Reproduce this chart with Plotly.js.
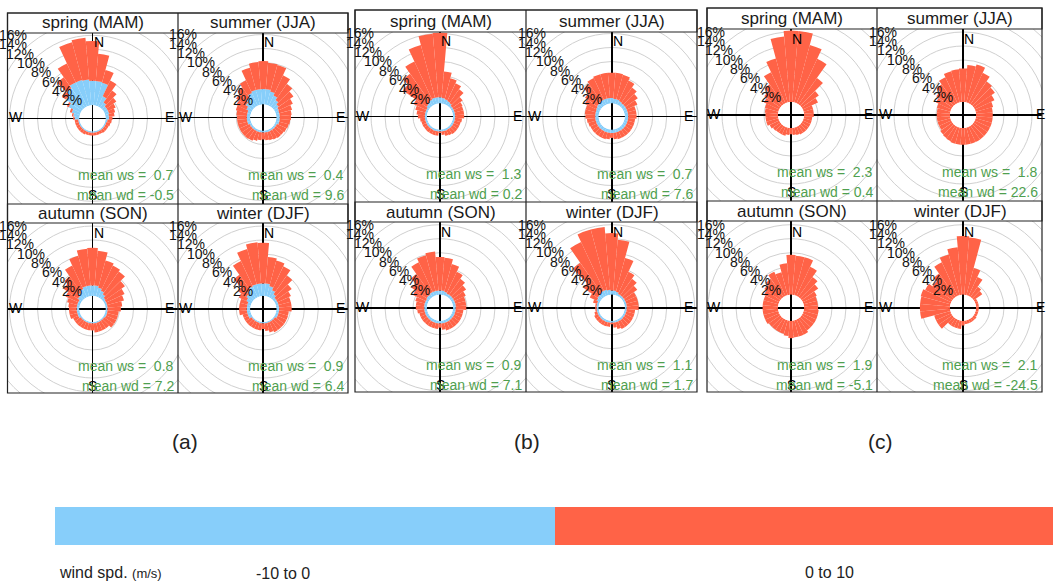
<!DOCTYPE html>
<html><head><meta charset="utf-8">
<script src="https://cdn.plot.ly/plotly-3.0.1.min.js"></script>
<style>html,body{margin:0;padding:0;background:#fff}#chart{width:1053px;height:581px}</style>
</head><body><div id="chart"></div>
<script>
// ---------------- data ----------------
const directions = [0,10,20,30,40,50,60,70,80,90,100,110,120,130,140,150,160,170,180,190,200,210,220,230,240,250,260,270,280,290,300,310,320,330,340,350];
const seasons = ['spring (MAM)','summer (JJA)','autumn (SON)','winter (DJF)'];
const speedBins = ['-10 to 0','0 to 10'];
const panelLabels = ['(a)','(b)','(c)'];

const meanWS_a = [0.7,0.4,0.8,0.9];
const meanWD_a = [-0.5,9.6,7.2,6.4];
const meanWS_b = [1.3,0.7,0.9,1.1];
const meanWD_b = [0.2,7.6,7.1,1.7];
const meanWS_c = [2.3,1.8,1.9,2.1];
const meanWD_c = [0.4,22.6,-5.1,-24.5];

// frequency (%) of wind speed bin "-10 to 0"
const blue_a_spring = [3.5,3.5,3.4,1.6,0.9,0.6,0.6,0.6,0.5,0.5,0.3,0.2,0.2,0.2,0.2,0.2,0.2,0.2,0.2,0.2,0.2,0.2,0.2,0.2,0.2,0.2,0.2,0.7,0.9,1.2,1.9,2.8,3.4,3.8,3.8,3.7];
const blue_a_summer = [2.2,2.2,2.0,1.6,1.2,0.8,0.6,0.5,0.5,0.5,0.5,0.5,0.3,0.3,0.3,0.3,0.3,0.3,0.3,0.3,0.3,0.3,0.3,0.3,0.3,0.5,0.5,0.5,0.5,0.5,0.8,1.2,1.6,2.0,2.2,2.2];
const blue_a_autumn = [1.5,1.5,1.3,1.0,0.7,0.4,0.3,0.3,0.3,0.3,0.3,0.3,0.3,0.2,0.2,0.2,0.2,0.2,0.2,0.2,0.2,0.2,0.2,0.2,0.4,0.4,0.4,0.4,0.4,0.4,0.4,0.7,1.0,1.3,1.5,1.5];
const blue_a_winter = [1.8,1.8,1.5,1.1,0.7,0.4,0.4,0.4,0.4,0.4,0.4,0.4,0.4,0.2,0.2,0.2,0.2,0.2,0.2,0.2,0.2,0.2,0.2,0.2,0.5,0.5,0.5,0.5,0.5,0.5,0.8,1.1,1.4,1.7,1.8,1.8];
const blue_b_spring = [0.9,0.8,0.7,0.6,0.5,0.3,0.3,0.3,0.3,0.3,0.3,0.3,0.3,0.3,0.3,0.3,0.3,0.3,0.3,0.3,0.3,0.3,0.3,0.3,0.3,0.3,0.3,0.3,0.3,0.3,0.3,0.5,0.6,0.8,0.9,0.9];
const blue_b_summer = [0.8,0.7,0.7,0.6,0.5,0.5,0.5,0.5,0.5,0.5,0.5,0.5,0.5,0.5,0.5,0.5,0.5,0.5,0.5,0.5,0.5,0.5,0.5,0.5,0.5,0.5,0.5,0.5,0.5,0.5,0.6,0.7,0.8,0.8,0.8,0.8];
const blue_b_autumn = [0.6,0.6,0.5,0.4,0.4,0.4,0.4,0.4,0.4,0.4,0.4,0.4,0.4,0.4,0.4,0.4,0.4,0.4,0.4,0.4,0.4,0.4,0.4,0.4,0.4,0.4,0.4,0.4,0.4,0.4,0.4,0.5,0.5,0.6,0.6,0.6];
const blue_b_winter = [0.6,0.6,0.5,0.3,0.3,0.3,0.3,0.3,0.3,0.3,0.3,0.3,0.3,0.3,0.3,0.3,0.3,0.3,0.3,0.3,0.3,0.3,0.3,0.3,0.3,0.3,0.3,0.3,0.3,0.3,0.5,0.6,0.7,0.8,0.8,0.7];

// frequency (%) of wind speed bin "0 to 10"
const red_a_spring = [5.7,3.9,1.9,2.5,2.1,1.7,1.2,0.9,0.8,0.5,0.6,0.6,0.5,0.5,0.5,0.4,0.4,0.4,0.4,0.4,0.4,0.5,0.5,0.5,0.5,0.5,0.5,0.2,0.2,0.3,0.3,0.7,1.9,3.0,5.6,6.0];
const red_a_summer = [4.0,3.8,3.9,3.2,2.8,2.6,2.2,1.9,1.7,1.6,1.5,1.4,1.5,1.4,1.4,1.3,1.2,1.1,1.0,1.1,1.3,1.5,1.6,1.6,1.6,1.4,1.4,1.4,1.5,1.7,1.6,1.7,1.8,2.0,3.3,3.9];
const red_a_autumn = [5.4,5.0,4.0,4.0,4.0,3.4,2.9,2.5,2.1,1.9,1.6,1.6,1.6,1.7,1.3,1.3,1.3,1.3,1.0,1.0,1.0,1.0,1.0,1.0,0.8,1.1,1.1,1.1,1.2,1.5,2.0,2.5,2.8,3.7,4.5,5.3];
const red_a_winter = [5.8,3.8,3.8,3.8,3.3,2.7,2.1,1.8,1.8,1.8,1.4,1.4,1.4,1.6,1.6,1.6,1.4,1.1,0.8,1.0,1.0,1.0,1.0,1.0,0.7,0.7,1.1,1.1,1.1,1.1,1.2,1.5,2.7,4.0,5.2,5.9];
const red_b_spring = [9.2,3.8,3.1,2.8,2.4,1.8,1.4,1.3,1.3,1.3,1.0,0.9,0.9,0.9,0.9,0.8,0.7,0.5,0.2,0.6,0.6,0.6,0.6,0.6,0.6,0.6,0.7,1.0,1.2,1.5,2.0,4.1,5.0,6.0,7.8,9.1];
const red_b_summer = [3.6,3.7,3.6,3.2,2.7,2.2,1.7,1.2,1.2,1.2,1.0,1.0,1.0,1.0,1.0,1.0,1.0,0.9,0.7,0.9,1.0,1.0,1.0,1.0,1.0,1.1,1.2,1.4,1.5,1.5,1.8,2.1,3.0,3.4,3.6,3.6];
const red_b_autumn = [4.8,4.7,4.1,3.4,2.8,2.3,1.8,1.5,1.5,1.5,1.1,1.1,1.1,1.1,1.1,1.1,1.1,0.9,0.6,0.8,0.8,0.8,0.8,0.8,0.8,0.8,1.0,1.2,1.2,1.4,2.0,2.6,3.5,4.7,5.3,5.6];
const red_b_winter = [8.2,7.3,5.0,3.5,2.9,2.3,1.7,1.7,1.7,1.7,1.2,1.2,1.2,1.2,1.2,1.2,1.0,0.7,0.2,0.6,0.6,0.6,0.6,0.6,0.6,0.4,0.2,0.2,0.2,0.6,1.1,2.5,5.3,7.7,8.9,9.0];
const red_c_spring = [10.2,10.2,8.5,7.0,4.6,3.0,2.4,1.4,1.4,1.4,1.2,1.2,1.2,1.2,1.2,1.2,1.1,1.0,0.9,1.0,1.2,1.2,1.2,1.3,1.5,1.8,1.8,1.8,1.9,2.0,2.4,2.8,3.5,4.9,6.5,9.4];
const red_c_summer = [4.8,5.3,5.6,4.8,4.0,3.7,3.1,2.6,2.4,2.4,2.4,2.4,2.4,2.4,2.4,2.4,2.4,2.4,2.4,2.4,2.4,2.3,2.2,2.1,1.9,1.9,1.9,1.9,1.9,2.0,2.4,2.8,3.5,4.1,4.6,4.7];
const red_c_autumn = [5.7,5.6,5.6,4.6,3.5,2.9,2.2,2.0,2.0,2.0,2.1,2.1,2.1,2.1,2.1,2.4,2.4,2.4,2.5,2.2,2.0,2.0,2.0,2.0,2.2,2.2,2.2,2.2,2.2,2.2,2.4,2.8,3.2,3.8,3.4,4.5];
const red_c_winter = [8.4,8.2,4.0,3.0,1.8,1.5,0.4,0.4,0.4,0.4,0.4,0.4,0.4,0.5,0.5,0.5,0.5,0.5,0.7,1.2,1.2,1.2,1.2,2.4,2.4,2.4,4.3,4.3,4.3,4.4,4.1,3.5,4.1,5.3,6.0,6.8];

const gridSteps = [2,4,6,8,10,12,14,16];

// ---------------- styling / layout geometry ----------------
const W = 1053, H = 581;
const FONT = 'Liberation Sans, Arial, Helvetica, sans-serif';
const BLUE = '#87CEFA', RED = '#FF6347', GREEN = '#4f9f4f';
const RPX = 85, HOLE_PX = 13, PX_PER_PCT = 7;
const RMAX = (RPX - HOLE_PX) / PX_PER_PCT;

const panels = [
  {label: panelLabels[0], labelX: 185, x0: 7.5, xm: 178, x1: 348, y0: 13, ys1: 33, ys2: 204, ys3: 223, y1: 393,
   centers: [[92.5,118.3],[263.3,117.5],[92.5,309],[263.3,309]],
   blue: [blue_a_spring, blue_a_summer, blue_a_autumn, blue_a_winter],
   red: [red_a_spring, red_a_summer, red_a_autumn, red_a_winter], ws: meanWS_a, wd: meanWD_a},
  {label: panelLabels[1], labelX: 527, x0: 355, xm: 526, x1: 697, y0: 10, ys1: 32, ys2: 202, ys3: 222, y1: 392,
   centers: [[440,116.5],[611.7,116.5],[440,307.7],[611.7,307.7]],
   blue: [blue_b_spring, blue_b_summer, blue_b_autumn, blue_b_winter],
   red: [red_b_spring, red_b_summer, red_b_autumn, red_b_winter], ws: meanWS_b, wd: meanWD_b},
  {label: panelLabels[2], labelX: 880, x0: 707, xm: 877, x1: 1042, y0: 8, ys1: 29, ys2: 201, ys3: 221, y1: 392,
   centers: [[791,115],[963,115],[791,307.7],[963,307.7]],
   blue: null,
   red: [red_c_spring, red_c_summer, red_c_autumn, red_c_winter], ws: meanWS_c, wd: meanWD_c}
];

const fx = px => px / W;
const fy = py => 1 - py / H;

const traces = [];
const layout = {
  width: W, height: H, margin: {l: 0, r: 0, t: 0, b: 0},
  paper_bgcolor: '#ffffff', plot_bgcolor: 'rgba(0,0,0,0)',
  showlegend: false, font: {family: FONT},
  shapes: [], annotations: []
};
const borderShapes = [];
function paperText(x, y, text, size, color, xanchor) {
  layout.annotations.push({xref: 'paper', yref: 'paper', x: fx(x), y: fy(y), text: text, showarrow: false,
    xanchor: xanchor || 'center', yanchor: 'middle', font: {size: size, color: color, family: FONT}});
}

let n = 0;
panels.forEach(p => {
  const areas = [[p.x0,p.xm,p.ys1,p.ys2],[p.xm,p.x1,p.ys1,p.ys2],[p.x0,p.xm,p.ys3,p.y1],[p.xm,p.x1,p.ys3,p.y1]];
  areas.forEach((a, i) => {
    n++;
    const sfx = n === 1 ? '' : String(n);
    const [cx, cy] = p.centers[i];
    const polarId = 'polar' + sfx;
    layout[polarId] = {
      domain: {x: [fx(cx - RPX), fx(cx + RPX)], y: [fy(cy + RPX), fy(cy - RPX)]},
      hole: HOLE_PX / RPX, bgcolor: 'rgba(0,0,0,0)', barmode: 'stack', bargap: 0,
      radialaxis: {visible: false, range: [0, RMAX]},
      angularaxis: {visible: false, rotation: 90, direction: 'clockwise'}
    };
    if (p.blue) traces.push({type: 'barpolar', subplot: polarId, theta: directions, r: p.blue[i], name: speedBins[0],
      marker: {color: BLUE, line: {width: 0}}, hoverinfo: 'skip'});
    traces.push({type: 'barpolar', subplot: polarId, theta: directions, r: p.red[i], name: speedBins[1],
      marker: {color: RED, line: {width: 0}}, hoverinfo: 'skip'});

    // cartesian overlay (pixel units, centred on the rose) for grid circles and compass axes
    const xr = 'x' + sfx, yr = 'y' + sfx;
    const axBase = {showgrid: false, showticklabels: false, ticks: '', showline: false, fixedrange: true,
      zeroline: true, zerolinecolor: '#000', zerolinewidth: 1.6};
    layout['xaxis' + sfx] = Object.assign({domain: [fx(a[0]), fx(a[1])], range: [a[0] - cx, a[1] - cx], anchor: yr}, axBase);
    layout['yaxis' + sfx] = Object.assign({domain: [fy(a[3]), fy(a[2])], range: [cy - a[3], cy - a[2]], anchor: xr}, axBase);

    gridSteps.forEach(k => {
      const r = HOLE_PX + PX_PER_PCT * k;
      layout.shapes.push({type: 'circle', xref: xr, yref: yr, x0: -r, x1: r, y0: -r, y1: r,
        line: {color: '#d0d0d0', width: 1}, layer: 'below'});
      layout.annotations.push({xref: xr, yref: yr, x: -Math.min(r * 0.745, 80), y: r * 0.665, text: k + '%', showarrow: false,
        xanchor: 'center', yanchor: 'middle', font: {size: 14, color: '#111', family: FONT}});
    });
    const compass = [['N', 6, 76], ['E', 77, 1], ['S', 0, -77], ['W', -77, 1]];
    compass.forEach(c => layout.annotations.push({xref: xr, yref: yr, x: c[1], y: c[2], text: c[0], showarrow: false,
      xanchor: 'center', yanchor: 'middle', font: {size: 14, color: '#000', family: FONT}}));
    layout.annotations.push({xref: xr, yref: yr, x: a[1] - cx - 2, y: -57, xanchor: 'right', yanchor: 'middle',
      text: 'mean ws =&nbsp;&nbsp;' + p.ws[i].toFixed(1), showarrow: false, font: {size: 14, color: GREEN, family: FONT}});
    layout.annotations.push({xref: xr, yref: yr, x: a[1] - cx - 2, y: -77, xanchor: 'right', yanchor: 'middle',
      text: 'mean wd =&nbsp;' + p.wd[i].toFixed(1), showarrow: false, font: {size: 14, color: GREEN, family: FONT}});
    const stripTop = i < 2 ? p.y0 : p.ys2, stripBot = i < 2 ? p.ys1 : p.ys3;
    paperText((a[0] + a[1]) / 2, (stripTop + stripBot) / 2, seasons[i], 17, '#1a1a1a');
  });
  const line = {color: '#222', width: 1.2};
  borderShapes.push({type: 'rect', xref: 'paper', yref: 'paper', x0: fx(p.x0), x1: fx(p.x1), y0: fy(p.ys1), y1: fy(p.y0), fillcolor: '#fff', line: line, layer: 'above'});
  borderShapes.push({type: 'rect', xref: 'paper', yref: 'paper', x0: fx(p.x0), x1: fx(p.x1), y0: fy(p.ys3), y1: fy(p.ys2), fillcolor: '#fff', line: line, layer: 'above'});
  borderShapes.push({type: 'rect', xref: 'paper', yref: 'paper', x0: fx(p.x0), x1: fx(p.x1), y0: fy(p.y1), y1: fy(p.y0), line: line, layer: 'above'});
  borderShapes.push({type: 'line', xref: 'paper', yref: 'paper', x0: fx(p.xm), x1: fx(p.xm), y0: fy(p.y1), y1: fy(p.y0), line: line, layer: 'above'});
  paperText(p.labelX, 441, p.label, 21, '#222');
});
layout.shapes = layout.shapes.concat(borderShapes);

// colour key
layout.shapes.push({type: 'rect', xref: 'paper', yref: 'paper', x0: fx(55), x1: fx(555), y0: fy(545), y1: fy(507), fillcolor: BLUE, line: {width: 0}, layer: 'above'});
layout.shapes.push({type: 'rect', xref: 'paper', yref: 'paper', x0: fx(555), x1: fx(1053), y0: fy(545), y1: fy(507), fillcolor: RED, line: {width: 0}, layer: 'above'});
paperText(57, 572, 'wind spd. <span style="font-size:13px">(m/s)</span>', 16, '#222', 'left');
paperText(283, 573, speedBins[0], 16, '#222');
paperText(829, 572, speedBins[1], 16, '#222');

Plotly.newPlot('chart', traces, layout, {staticPlot: true, displayModeBar: false});
</script>
</body></html>
